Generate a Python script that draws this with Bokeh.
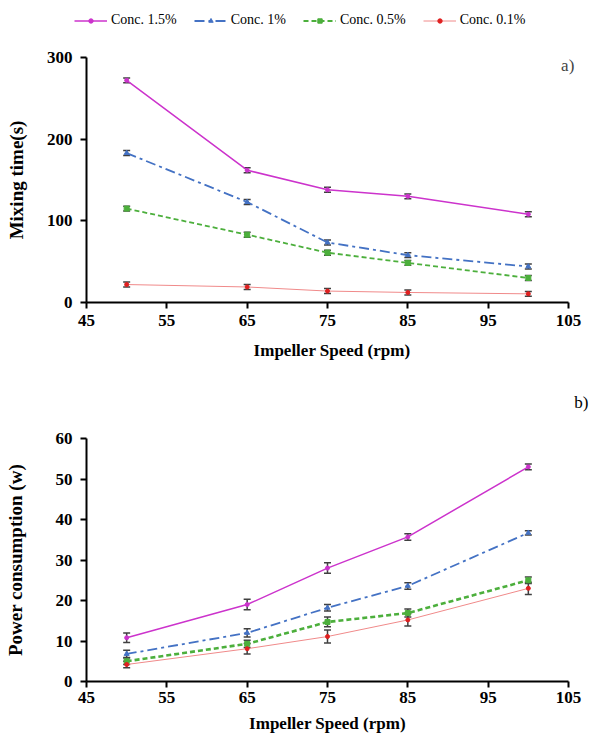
from bokeh.plotting import figure
from bokeh.layouts import column
from bokeh.models import (ColumnDataSource, Whisker, TeeHead, FixedTicker, Legend, LegendItem, Label, Range1d, Title)
from bokeh.embed import file_html
from bokeh.resources import INLINE

speed = [50, 65, 75, 85, 100]
series = ["Conc. 1.5%", "Conc. 1%", "Conc. 0.5%", "Conc. 0.1%"]

mix_15 = [272, 162, 138, 130, 108]
mix_10 = [183, 123, 73.5, 58, 44]
mix_05 = [115, 83, 61, 48.5, 30]
mix_01 = [22, 19, 14, 12.3, 10.6]
mix_err = [3, 3, 3, 3, 3]

pow_15 = [10.8, 19.0, 28.0, 35.7, 53.0]
pow_10 = [6.8, 12.0, 18.2, 23.6, 36.7]
pow_05 = [5.0, 9.3, 14.7, 16.9, 25.0]
pow_01 = [4.2, 8.1, 11.1, 15.2, 23.0]
pow_err_15 = [1.2, 1.3, 1.3, 0.8, 0.7]
pow_err_10 = [0.9, 1.0, 0.8, 0.8, 0.5]
pow_err_05 = [0.8, 0.9, 1.2, 1.0, 0.8]
pow_err_01 = [0.8, 1.3, 1.6, 1.5, 1.5]

x_ticks = [45, 55, 65, 75, 85, 95, 105]
mix_ticks = [0, 100, 200, 300]
pow_ticks = [0, 10, 20, 30, 40, 50, 60]

FONT = "Liberation Serif"
styles = [
    dict(color="#CC33CC", dash="solid", width=1.5, marker="circle", msize=4, mcolor="#CC33CC"),
    dict(color="#4472C4", dash="10 4 3 4", width=1.8, marker="triangle", msize=5, mcolor="#4472C4"),
    dict(color="#4CAF3C", dash="5 3", width=1.8, marker="square", msize=5, mcolor="#4CAF3C"),
    dict(color="#F08A8A", dash="solid", width=1.0, marker="circle", msize=4, mcolor="#E02020"),
]


def style_axes(p, ylabel, yticks, ystandoff, xlab_standoff, xtick_standoff):
    for ax in (p.xaxis[0], p.yaxis[0]):
        ax.axis_line_color = "black"
        ax.axis_line_width = 2
        ax.major_tick_line_color = "black"
        ax.major_tick_line_width = 2
        ax.major_tick_out = 6
        ax.major_tick_in = 0
        ax.minor_tick_line_color = None
        ax.major_label_text_font = FONT
        ax.major_label_text_font_style = "bold"
        ax.major_label_text_font_size = "17px"
        ax.major_label_text_color = "black"
        ax.axis_label_text_font = FONT
        ax.axis_label_text_font_style = "bold"
        ax.axis_label_text_color = "black"
    p.xaxis[0].axis_label_text_font_size = "17px"
    p.yaxis[0].axis_label_text_font_size = "19px"
    p.xaxis[0].axis_label_standoff = xlab_standoff
    p.yaxis[0].axis_label_standoff = ystandoff
    p.yaxis[0].major_label_standoff = 8
    p.xaxis[0].major_label_standoff = xtick_standoff
    p.xaxis[0].ticker = FixedTicker(ticks=x_ticks)
    p.xaxis[0].bounds = (x_ticks[0], x_ticks[-1])
    p.yaxis[0].ticker = FixedTicker(ticks=yticks)
    p.yaxis[0].bounds = (yticks[0], yticks[-1])
    p.xaxis[0].axis_label = "Impeller Speed (rpm)"
    p.yaxis[0].axis_label = ylabel
    p.xgrid.visible = False
    p.ygrid.visible = False
    p.outline_line_color = None


def add_series(p, data, errs, widths=None):
    for i, (vals, err, st) in enumerate(zip(data, errs, styles)):
        w = widths[i] if widths else st["width"]
        src = ColumnDataSource(dict(x=speed, y=vals,
                                    lo=[v - e for v, e in zip(vals, err)],
                                    hi=[v + e for v, e in zip(vals, err)]))
        p.line("x", "y", source=src, line_color=st["color"], line_dash=st["dash"], line_width=w)
        p.add_layout(Whisker(source=src, base="x", lower="lo", upper="hi",
                             line_color="#404040", line_width=1.5,
                             lower_head=TeeHead(size=7, line_color="#404040", line_width=1.5),
                             upper_head=TeeHead(size=7, line_color="#404040", line_width=1.5)))
        p.scatter("x", "y", source=src, marker=st["marker"], size=st["msize"],
                  fill_color=st["mcolor"], line_color=st["mcolor"])


# Legend strip (glyphs placed outside the visible range; only the legend shows)
pl = figure(width=590, height=36, output_backend="svg", toolbar_location=None,
            x_range=Range1d(0, 1), y_range=Range1d(0, 1),
            min_border=0, x_axis_type=None, y_axis_type=None)
pl.xgrid.visible = False
pl.ygrid.visible = False
pl.outline_line_color = None
leg_items = []
for s, st in zip(series, styles):
    esrc = ColumnDataSource(dict(x=[-5, -4], y=[-5, -5]))
    ln = pl.line("x", "y", source=esrc, line_color=st["color"], line_dash=st["dash"], line_width=st["width"])
    sc = pl.scatter("x", "y", source=esrc, marker=st["marker"], fill_color=st["mcolor"], line_color=st["mcolor"])
    leg_items.append(LegendItem(label=s, renderers=[ln, sc]))
legend = Legend(items=leg_items, orientation="horizontal", location=(74, 8),
                label_text_font=FONT, label_text_font_size="14px", label_standoff=4,
                label_text_color="black",
                border_line_color=None, background_fill_alpha=0,
                glyph_width=33, glyph_height=11, spacing=17, padding=4, margin=0)
pl.add_layout(legend)

# Top chart: frame extends a little to the right so the panel tag fits inside
p1 = figure(width=590, height=329, output_backend="svg", toolbar_location=None,
            x_range=Range1d(45, 106.12), y_range=Range1d(0, 300),
            min_border_left=86, min_border_right=13, min_border_top=21, min_border_bottom=63)
style_axes(p1, "Mixing time(s)", mix_ticks, 17, 12, 6)
add_series(p1, [mix_15, mix_10, mix_05, mix_01], [mix_err] * 4)
p1.add_layout(Label(x=104.9, y=290.8, text="a)", text_font=FONT, text_font_size="17px",
                    text_baseline="middle", text_align="center"))

# Bottom chart
p2 = figure(width=590, height=370, output_backend="svg", toolbar_location=None,
            x_range=Range1d(45, 105), y_range=Range1d(0, 60),
            min_border_left=86, min_border_right=22, min_border_top=73, min_border_bottom=53)
style_axes(p2, "Power consumption (w)", pow_ticks, 27, 8, 4)
add_series(p2, [pow_15, pow_10, pow_05, pow_01], [pow_err_15, pow_err_10, pow_err_05, pow_err_01],
           widths=[1.5, 1.8, 2.6, 1.0])
p2.add_layout(Title(text="b)", align="right", offset=-20, standoff=50, vertical_align="top",
                    text_font=FONT, text_font_size="17px", text_font_style="normal",
                    text_color="black"), "above")

layout = column(column(pl), column(p1), column(p2), spacing=0)
open("out.html", "w").write(file_html(layout, INLINE))
